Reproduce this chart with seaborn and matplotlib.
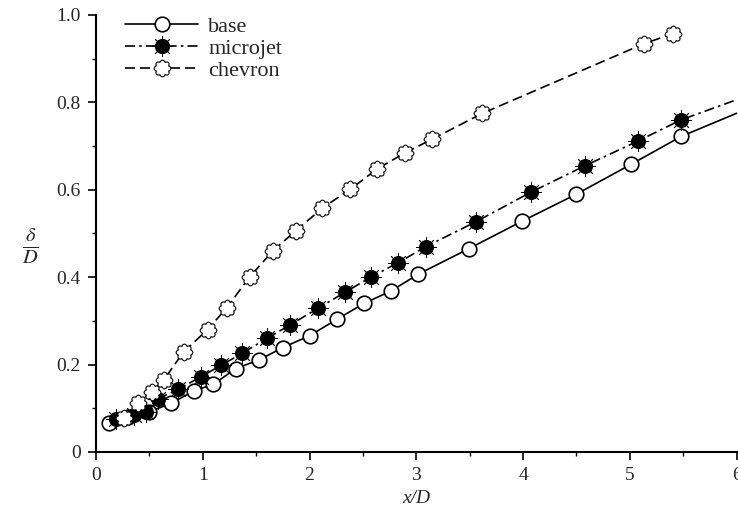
import numpy as np
import matplotlib
matplotlib.use("Agg")
import matplotlib.pyplot as plt
import seaborn as sns
from matplotlib.path import Path
from matplotlib.lines import Line2D
from matplotlib.ticker import MultipleLocator

# ---- data ----
base_x = [0.12, 0.30, 0.50, 0.70, 0.92, 1.10, 1.31, 1.53, 1.75, 2.00, 2.26, 2.51, 2.76, 3.02, 3.49, 3.99, 4.50, 5.01, 5.48]
base_y = [0.066, 0.080, 0.092, 0.111, 0.140, 0.155, 0.191, 0.211, 0.239, 0.266, 0.304, 0.340, 0.368, 0.407, 0.465, 0.528, 0.590, 0.658, 0.722]
base_end = (6.0, 0.775)

micro_x = [0.19, 0.36, 0.47, 0.58, 0.77, 0.98, 1.17, 1.37, 1.60, 1.82, 2.08, 2.33, 2.58, 2.83, 3.09, 3.56, 4.07, 4.58, 5.08, 5.48]
micro_y = [0.075, 0.085, 0.092, 0.122, 0.143, 0.172, 0.198, 0.226, 0.260, 0.291, 0.329, 0.365, 0.401, 0.433, 0.470, 0.527, 0.594, 0.655, 0.712, 0.760]
micro_end = (6.0, 0.806)

chev_x = [0.26, 0.39, 0.52, 0.635, 0.82, 1.045, 1.225, 1.44, 1.66, 1.87, 2.12, 2.38, 2.63, 2.89, 3.15, 3.62, 5.13, 5.40]
chev_y = [0.077, 0.111, 0.138, 0.165, 0.229, 0.280, 0.330, 0.401, 0.461, 0.506, 0.558, 0.601, 0.647, 0.684, 0.716, 0.775, 0.934, 0.957]

labels = ["base", "microjet", "chevron"]
x_ticks = [0, 1, 2, 3, 4, 5, 6]
y_ticks = [0, 0.2, 0.4, 0.6, 0.8, 1.0]
y_tick_labels = ["0", "0.2", "0.4", "0.6", "0.8", "1.0"]

# ---- style ----
sns.set_style("ticks")
plt.rcParams["font.family"] = ["Liberation Serif", "DejaVu Serif"]
plt.rcParams["mathtext.fontset"] = "stix"
plt.rcParams["font.size"] = 14

# cloud-like marker for chevron
th = np.linspace(0, 2 * np.pi, 241)
rr = 0.80 + 0.20 * np.abs(np.cos(4 * th))
cloud = Path(np.column_stack([rr * np.cos(th), rr * np.sin(th)]), closed=True)
spike = (8, 2, 0)

fig = plt.figure(figsize=(7.38, 5.2), dpi=100)
ax = fig.add_axes([0.1301, 0.1308, 0.868, 0.8404])

lw = 1.2
dashdot = (0, (6, 2.5, 1.5, 2.5))
dashed = (0, (6, 3))

# base
bx = base_x + [base_end[0]]
by = base_y + [base_end[1]]
sns.lineplot(x=bx, y=by, ax=ax, sort=False, estimator=None, color="black",
             lw=lw, linestyle="-", marker="o", markersize=10.5, mfc="white",
             mec="black", mew=1.2, markevery=list(range(len(base_x))), zorder=3)

# microjet
mx = micro_x + [micro_end[0]]
my = micro_y + [micro_end[1]]
sns.lineplot(x=mx, y=my, ax=ax, sort=False, estimator=None, color="black",
             lw=lw, linestyle=dashdot, zorder=2)
sns.lineplot(x=micro_x, y=micro_y, ax=ax, sort=False, estimator=None, color="black",
             linestyle="none", marker=spike, markersize=15, mec="black", mew=0.6, zorder=4)
sns.lineplot(x=micro_x, y=micro_y, ax=ax, sort=False, estimator=None, color="black",
             linestyle="none", marker="o", markersize=10, mfc="black", mec="black",
             mew=0.8, zorder=5)

# chevron
sns.lineplot(x=chev_x, y=chev_y, ax=ax, sort=False, estimator=None, color="black",
             lw=lw, linestyle=dashed, marker=cloud, markersize=12, mfc="white",
             mec="black", mew=0.8, zorder=6)

# axes
ax.set_xlim(0, 6)
ax.set_ylim(0, 1.0)
ax.set_xticks(x_ticks)
ax.set_yticks(y_ticks)
ax.set_yticklabels(y_tick_labels)
ax.xaxis.set_minor_locator(MultipleLocator(0.5))
ax.yaxis.set_minor_locator(MultipleLocator(0.1))
ax.tick_params(which="major", direction="out", length=6, width=1.2, labelsize=14,
               color="black", pad=5)
ax.tick_params(which="minor", direction="out", length=3, width=1.0, color="black")
for s in ["top", "right"]:
    ax.spines[s].set_visible(False)
for s in ["left", "bottom"]:
    ax.spines[s].set_linewidth(1.5)
    ax.spines[s].set_color("black")

ax.set_xlabel("x/D", fontstyle="italic", fontsize=14, labelpad=4)
ax.set_ylabel(r"$\frac{\delta}{D}$", rotation=0, fontsize=21, va="center", ha="center")
ax.yaxis.set_label_coords(-0.103, 0.47)

# legend
h_base = Line2D([], [], color="black", lw=lw, linestyle="-", marker="o", markersize=10.5,
                mfc="white", mec="black", mew=1.2)
h_mj1 = Line2D([], [], color="black", lw=lw, linestyle=dashdot, marker=spike,
               markersize=15, mec="black", mew=0.6)
h_mj2 = Line2D([], [], color="black", lw=0, linestyle="none", marker="o", markersize=10,
               mfc="black", mec="black")
h_ch = Line2D([], [], color="black", lw=lw, linestyle=dashed, marker=cloud, markersize=12,
              mfc="white", mec="black", mew=0.8)
ax.legend([h_base, (h_mj1, h_mj2), h_ch], labels, loc="upper left",
          bbox_to_anchor=(0.014, 1.042), frameon=False, handlelength=3.3,
          labelspacing=0.05, numpoints=1, fontsize=16, handletextpad=0.45)

fig.savefig("out.png", dpi=100)
